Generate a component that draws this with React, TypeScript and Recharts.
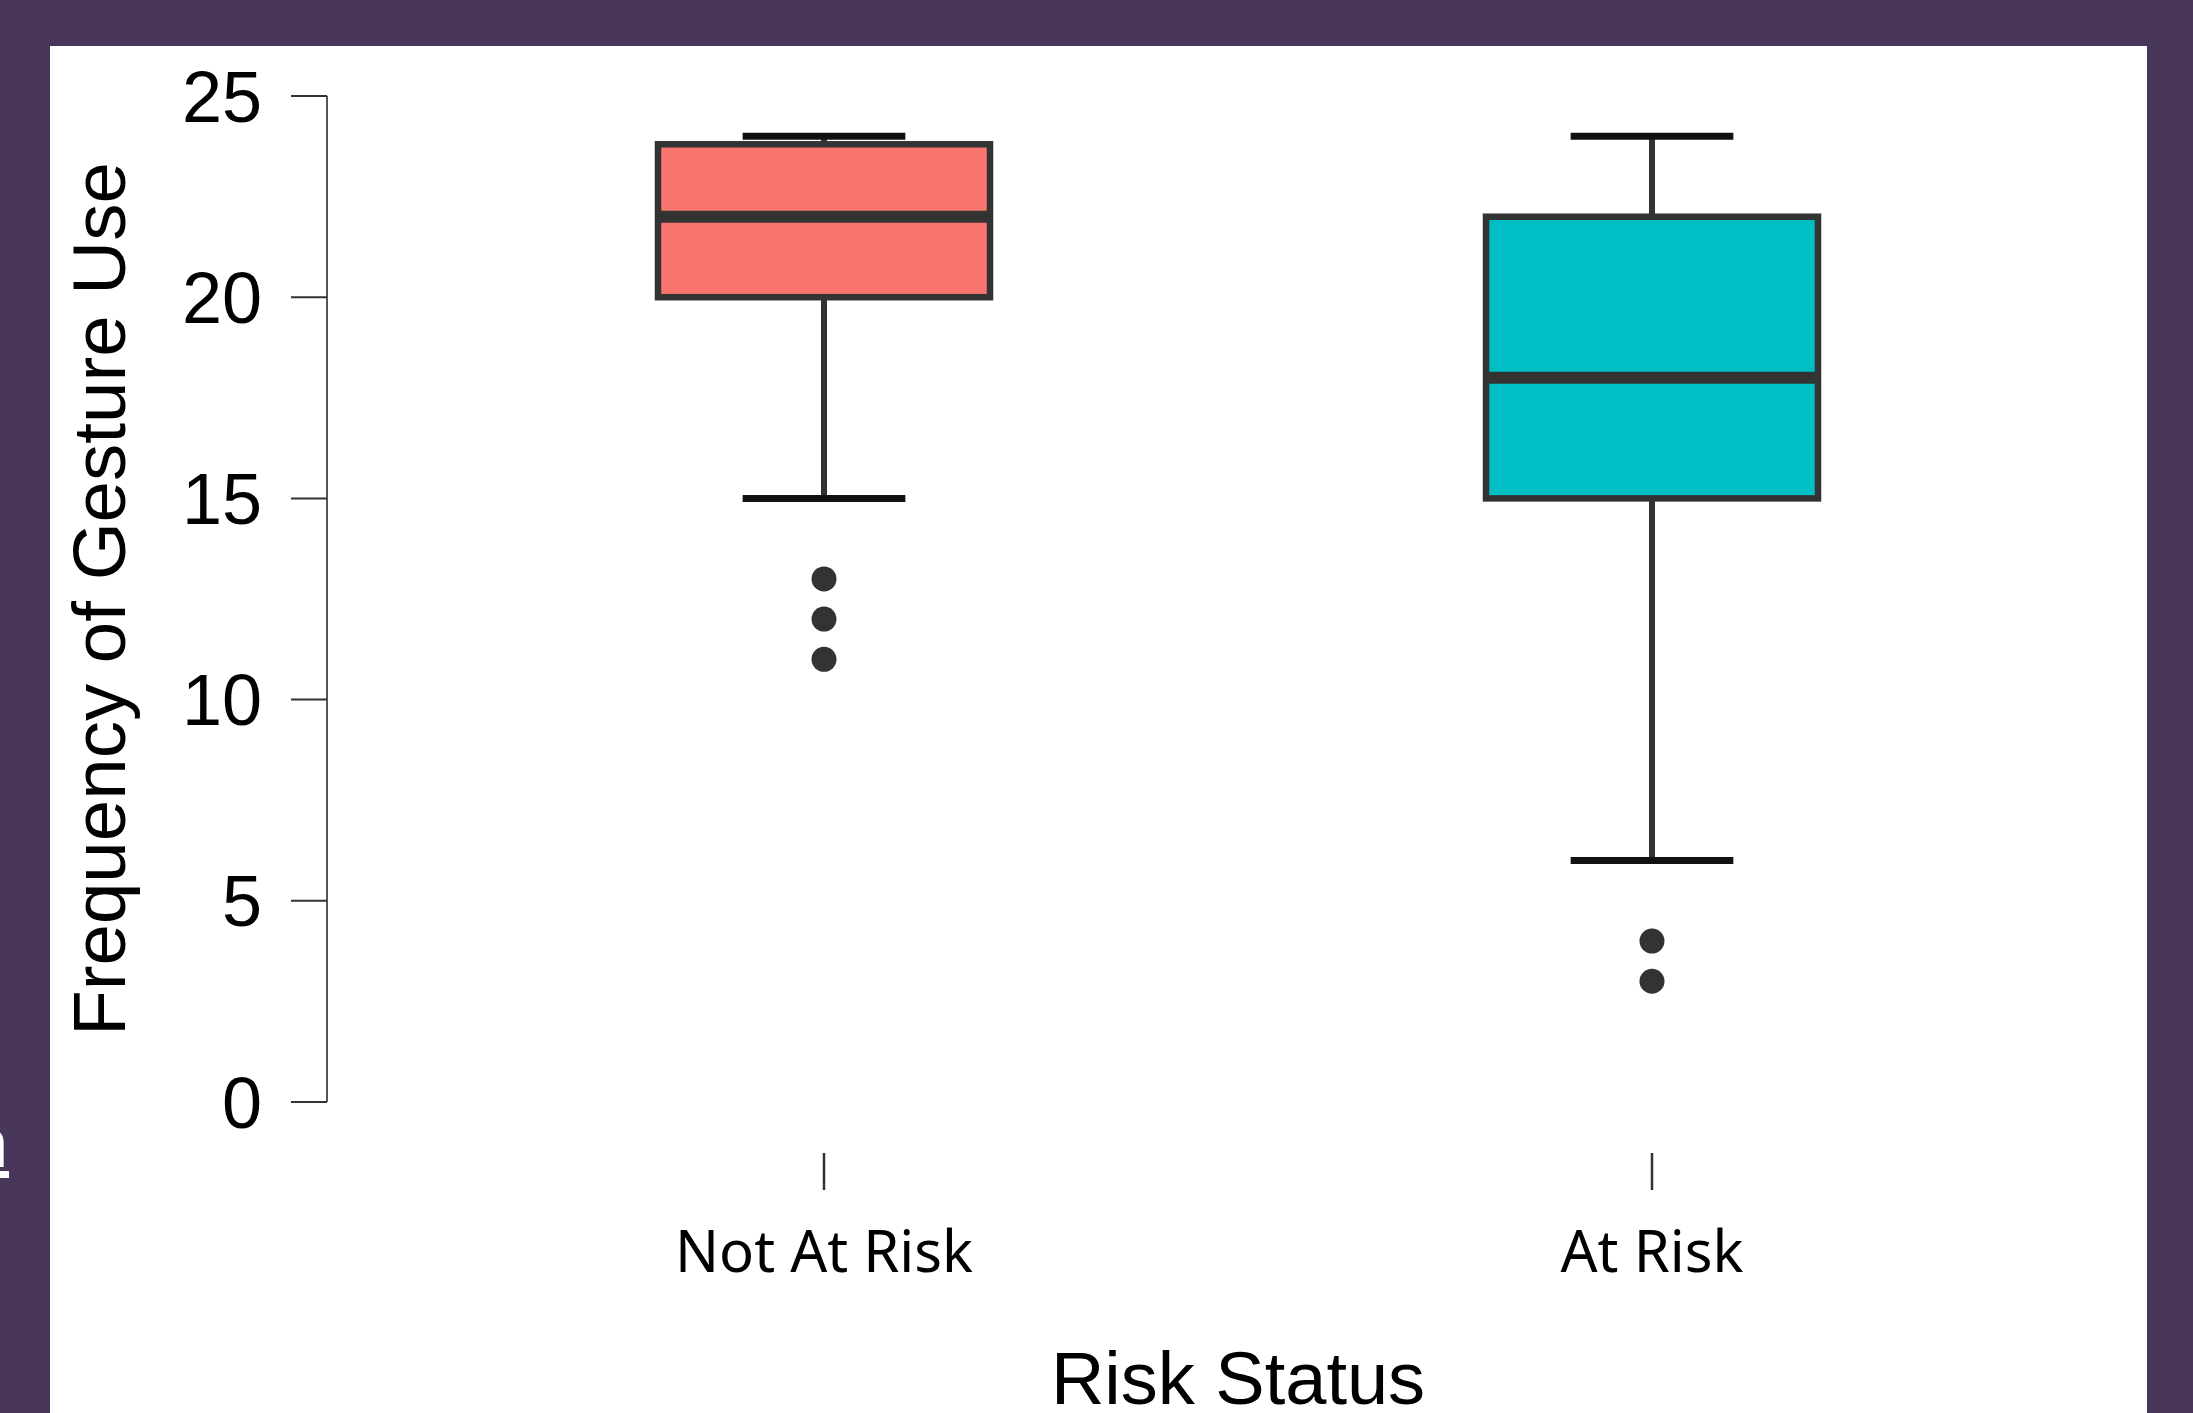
import { ComposedChart, Bar, Scatter, XAxis, YAxis } from 'recharts';

// box plot summary per group
const categories = ['Not At Risk', 'At Risk'];
const whiskerLow = [15, 6];
const lowerQuartile = [20, 15];
const medians = [22, 18];
const upperQuartile = [23.8, 22];
const whiskerHigh = [24, 24];
const boxColors = ['#F8766D', '#00BFC4'];

// points beyond the whiskers
const outlierGroups = ['Not At Risk', 'Not At Risk', 'Not At Risk', 'At Risk', 'At Risk'];
const outlierValues = [13, 12, 11, 4, 3];

const yTicks = [0, 5, 10, 15, 20, 25];

const boxData = categories.map((name, i) => ({
  name,
  range: [whiskerLow[i], whiskerHigh[i]],
  q1: lowerQuartile[i],
  median: medians[i],
  q3: upperQuartile[i],
  fill: boxColors[i],
}));

const outlierData = outlierValues.map((value, i) => ({ name: outlierGroups[i], value }));

function BoxShape(props: any) {
  const { x, y, width, height, payload } = props;
  const [lo, hi] = payload.range;
  const top = Math.min(y, y + height);
  const h = Math.abs(height);
  const toY = (v: number) => top + ((hi - v) / (hi - lo)) * h;
  const cx = x + width / 2;
  const capHalf = width * 0.245;
  const yQ1 = toY(payload.q1);
  const yQ3 = toY(payload.q3);
  const yMed = toY(payload.median);
  return (
    <g>
      <line x1={cx} x2={cx} y1={top} y2={top + h} stroke="#333" strokeWidth={6} />
      <line x1={cx - capHalf} x2={cx + capHalf} y1={top} y2={top} stroke="#111" strokeWidth={7} />
      <line x1={cx - capHalf} x2={cx + capHalf} y1={top + h} y2={top + h} stroke="#111" strokeWidth={7} />
      <rect x={x} y={yQ3} width={width} height={yQ1 - yQ3} fill={payload.fill} stroke="#333" strokeWidth={6.5} />
      <line x1={x} x2={x + width} y1={yMed} y2={yMed} stroke="#333" strokeWidth={12} />
    </g>
  );
}

function OutlierDot(props: any) {
  const { cx, cy } = props;
  return <circle cx={cx} cy={cy} r={12.5} fill="#333" />;
}

function CategoryTick(props: any) {
  const { x, y, payload } = props;
  return (
    <g>
      <line x1={x} x2={x} y1={y + 51} y2={y + 88} stroke="#333" strokeWidth={2.5} />
      <text x={x} y={y + 170} textAnchor="middle" fontFamily="'Noto Sans', sans-serif" fontSize={58} fill="#000">
        {payload.value}
      </text>
    </g>
  );
}

function YTitle(props: any) {
  const { viewBox } = props;
  const cx = viewBox.x + 125;
  const cy = viewBox.y + viewBox.height / 2;
  return (
    <text
      x={cx}
      y={cy}
      transform={`rotate(-90, ${cx}, ${cy})`}
      textAnchor="middle"
      fontSize={74.5}
      fill="#000"
    >
      Frequency of Gesture Use
    </text>
  );
}

export default function App() {
  return (
    <div style={{ position: 'absolute', left: 0, top: 0, width: 2193, height: 1413, background: '#48375A', overflow: 'hidden' }}>
      <div style={{ position: 'absolute', left: 50, top: 46, width: 2097, height: 1367, background: '#fff' }} />
      <div style={{ position: 'absolute', left: 0, top: 1092, width: 9, height: 95, overflow: 'hidden' }}>
        <span
          style={{
            position: 'absolute',
            left: -34,
            top: 0,
            fontFamily: "'Noto Sans', sans-serif",
            fontSize: 70,
            color: '#fff',
            textDecoration: 'underline',
          }}
        >
          n
        </span>
      </div>
      <div style={{ position: 'absolute', left: 0, top: 0 }}>
        <ComposedChart
          width={2193}
          height={1413}
          data={boxData}
          margin={{ top: 96, right: 44, bottom: 0, left: 0 }}
          style={{ fontFamily: "'Liberation Sans', Arial, sans-serif" }}
        >
          <XAxis
            dataKey="name"
            type="category"
            allowDuplicatedCategory={false}
            height={311}
            padding={{ left: 83, right: 83 }}
            axisLine={false}
            tickLine={false}
            tickSize={0}
            tickMargin={0}
            tick={<CategoryTick />}
            label={{ value: 'Risk Status', position: 'insideBottom', offset: 9, fontSize: 74, fill: '#000' }}
          />
          <YAxis
            type="number"
            domain={[0, 25]}
            ticks={yTicks}
            width={327}
            tickSize={36}
            tickMargin={29}
            axisLine={{ stroke: '#555', strokeWidth: 2 }}
            tickLine={{ stroke: '#333', strokeWidth: 2 }}
            tick={{ fontSize: 72, fill: '#000' }}
            label={{ content: <YTitle /> }}
          />
          <Bar dataKey="range" barSize={332} shape={<BoxShape />} isAnimationActive={false} />
          <Scatter data={outlierData} dataKey="value" shape={<OutlierDot />} isAnimationActive={false} />
        </ComposedChart>
      </div>
    </div>
  );
}
